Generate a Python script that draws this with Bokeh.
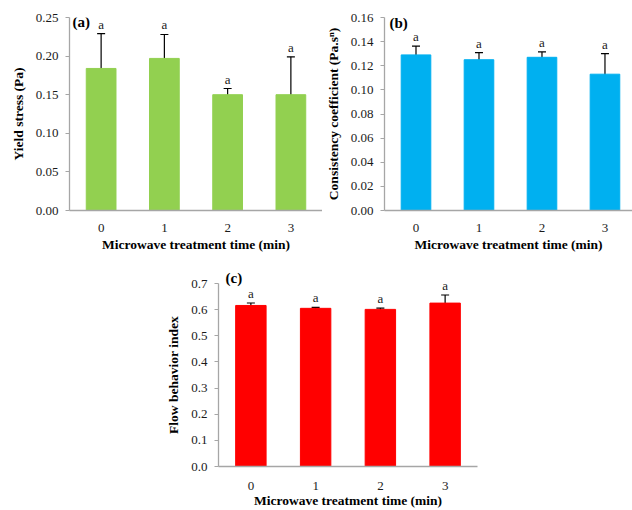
from bokeh.plotting import figure
from bokeh.layouts import column, row
from bokeh.models import (ColumnDataSource, Whisker, TeeHead, Range1d, FixedTicker,
                          Label, Spacer, PrintfTickFormatter, Title)
from bokeh.core.properties import value
from bokeh.embed import file_html
from bokeh.resources import INLINE

times = [0, 1, 2, 3]
tick_labels = ["0", "1", "2", "3"]
sig_letters = ["a", "a", "a", "a"]

yield_mean = [0.184, 0.197, 0.150, 0.150]
yield_sd = [0.045, 0.031, 0.008, 0.049]

cons_mean = [0.129, 0.125, 0.127, 0.113]
cons_sd = [0.0073, 0.0058, 0.0045, 0.0171]

flow_mean = [0.616, 0.605, 0.601, 0.625]
flow_sd = [0.0095, 0.004, 0.005, 0.031]

a_ticks = [0.00, 0.05, 0.10, 0.15, 0.20, 0.25]
b_ticks = [0.00, 0.02, 0.04, 0.06, 0.08, 0.10, 0.12, 0.14, 0.16]
c_ticks = [0.0, 0.1, 0.2, 0.3, 0.4, 0.5, 0.6, 0.7]

FONT = "Liberation Serif"
AXIS_COL = "#a6a6a6"
TXT = "#1a1a1a"
TITLE_SIZE = "13.5px"


def panel(means, sds, color, yticks, fmt, ylabel, tag, width, height, borders,
          xend, tag_dx, tag_dy, tag_as_title=False, xl_standoff=13, xt_standoff=2):
    bl, br, bt, bb = borders
    ymax = yticks[-1]
    p = figure(width=width, height=height, output_backend="svg", toolbar_location=None,
               x_range=Range1d(-0.5, xend), y_range=Range1d(0, ymax),
               min_border_left=bl, min_border_right=br, min_border_top=bt,
               min_border_bottom=bb)
    p.outline_line_color = None
    p.xgrid.visible = False
    p.ygrid.visible = False
    p.background_fill_color = "white"

    src = ColumnDataSource(dict(
        x=times, top=means,
        upper=[m + s for m, s in zip(means, sds)],
        lower=[m - s for m, s in zip(means, sds)],
        lab=sig_letters))
    p.vbar(x="x", top="top", width=0.47, bottom=0, source=src,
           fill_color=color, line_color=color)
    w = Whisker(base="x", upper="upper", lower="lower", source=src,
                line_color="black", line_width=1.2,
                upper_head=TeeHead(size=8, line_color="black", line_width=1.2),
                lower_head=TeeHead(size=8, line_color="black", line_width=1.2))
    p.add_layout(w)
    p.text(x="x", y="upper", text="lab", source=src, text_align="center",
           text_baseline="bottom", y_offset=-2, text_font=value(FONT),
           text_font_size="13px", text_color=TXT)

    if tag_as_title:
        t = Title(text=tag, align="left", offset=tag_dx, standoff=tag_dy,
                  text_font=FONT, text_font_size="15px", text_font_style="bold",
                  text_color="black")
        p.add_layout(t, "above")
    else:
        p.add_layout(Label(x=-0.5, y=ymax, text=tag, x_offset=tag_dx, y_offset=tag_dy,
                           text_baseline="middle", text_align="left",
                           text_font=FONT, text_font_size="15px",
                           text_font_style="bold", text_color="black"))

    xa = p.xaxis[0]
    xa.ticker = FixedTicker(ticks=times)
    xa.major_label_overrides = {t: l for t, l in zip(times, tick_labels)}
    xa.major_tick_out = 0
    xa.major_tick_in = 0
    xa.minor_tick_out = 0
    xa.minor_tick_in = 0
    xa.axis_line_color = AXIS_COL
    xa.axis_line_width = 1.3
    xa.major_label_standoff = xl_standoff
    xa.axis_label = "Microwave treatment time (min)"
    xa.axis_label_standoff = xt_standoff
    xa.axis_label_text_font = FONT
    xa.axis_label_text_font_style = "bold"
    xa.axis_label_text_font_size = TITLE_SIZE
    xa.axis_label_text_color = "black"
    xa.major_label_text_font = FONT
    xa.major_label_text_font_size = "13px"
    xa.major_label_text_color = TXT

    ya = p.yaxis[0]
    ya.ticker = FixedTicker(ticks=yticks)
    ya.formatter = PrintfTickFormatter(format=fmt)
    ya.major_tick_out = 4
    ya.major_tick_in = 0
    ya.minor_tick_out = 0
    ya.minor_tick_in = 0
    ya.major_tick_line_color = AXIS_COL
    ya.axis_line_color = AXIS_COL
    ya.axis_line_width = 1.3
    ya.major_label_standoff = 7
    ya.axis_label = ylabel
    ya.axis_label_standoff = 7
    ya.axis_label_text_font = FONT
    ya.axis_label_text_font_style = "bold"
    ya.axis_label_text_font_size = TITLE_SIZE
    ya.axis_label_text_color = "black"
    ya.major_label_text_font = FONT
    ya.major_label_text_font_size = "13px"
    ya.major_label_text_color = TXT
    return p


pa = panel(yield_mean, yield_sd, "#92D050", a_ticks, "%.2f", "Yield stress (Pa)", "(a)",
           322, 258, (69, 0, 17, 48), 3.5, 3, -4)
pb = panel(cons_mean, cons_sd, "#00B0F0", b_ticks, "%.2f",
           "Consistency coefficient (Pa.s\u207f)", "(b)",
           310, 258, (61, 0, 17, 48), 3.437, 5, -5)
pc = panel(flow_mean, flow_sd, "#FF0000", c_ticks, "%.1f", "Flow behavior index", "(c)",
           322, 252, (58, 5, 25, 43), 3.5, 7, -4, tag_as_title=True,
           xl_standoff=15, xt_standoff=0)

layout = column(row(pa, pb), row(Spacer(width=160, height=252), pc))

open("out.html", "w").write(file_html(layout, INLINE))
